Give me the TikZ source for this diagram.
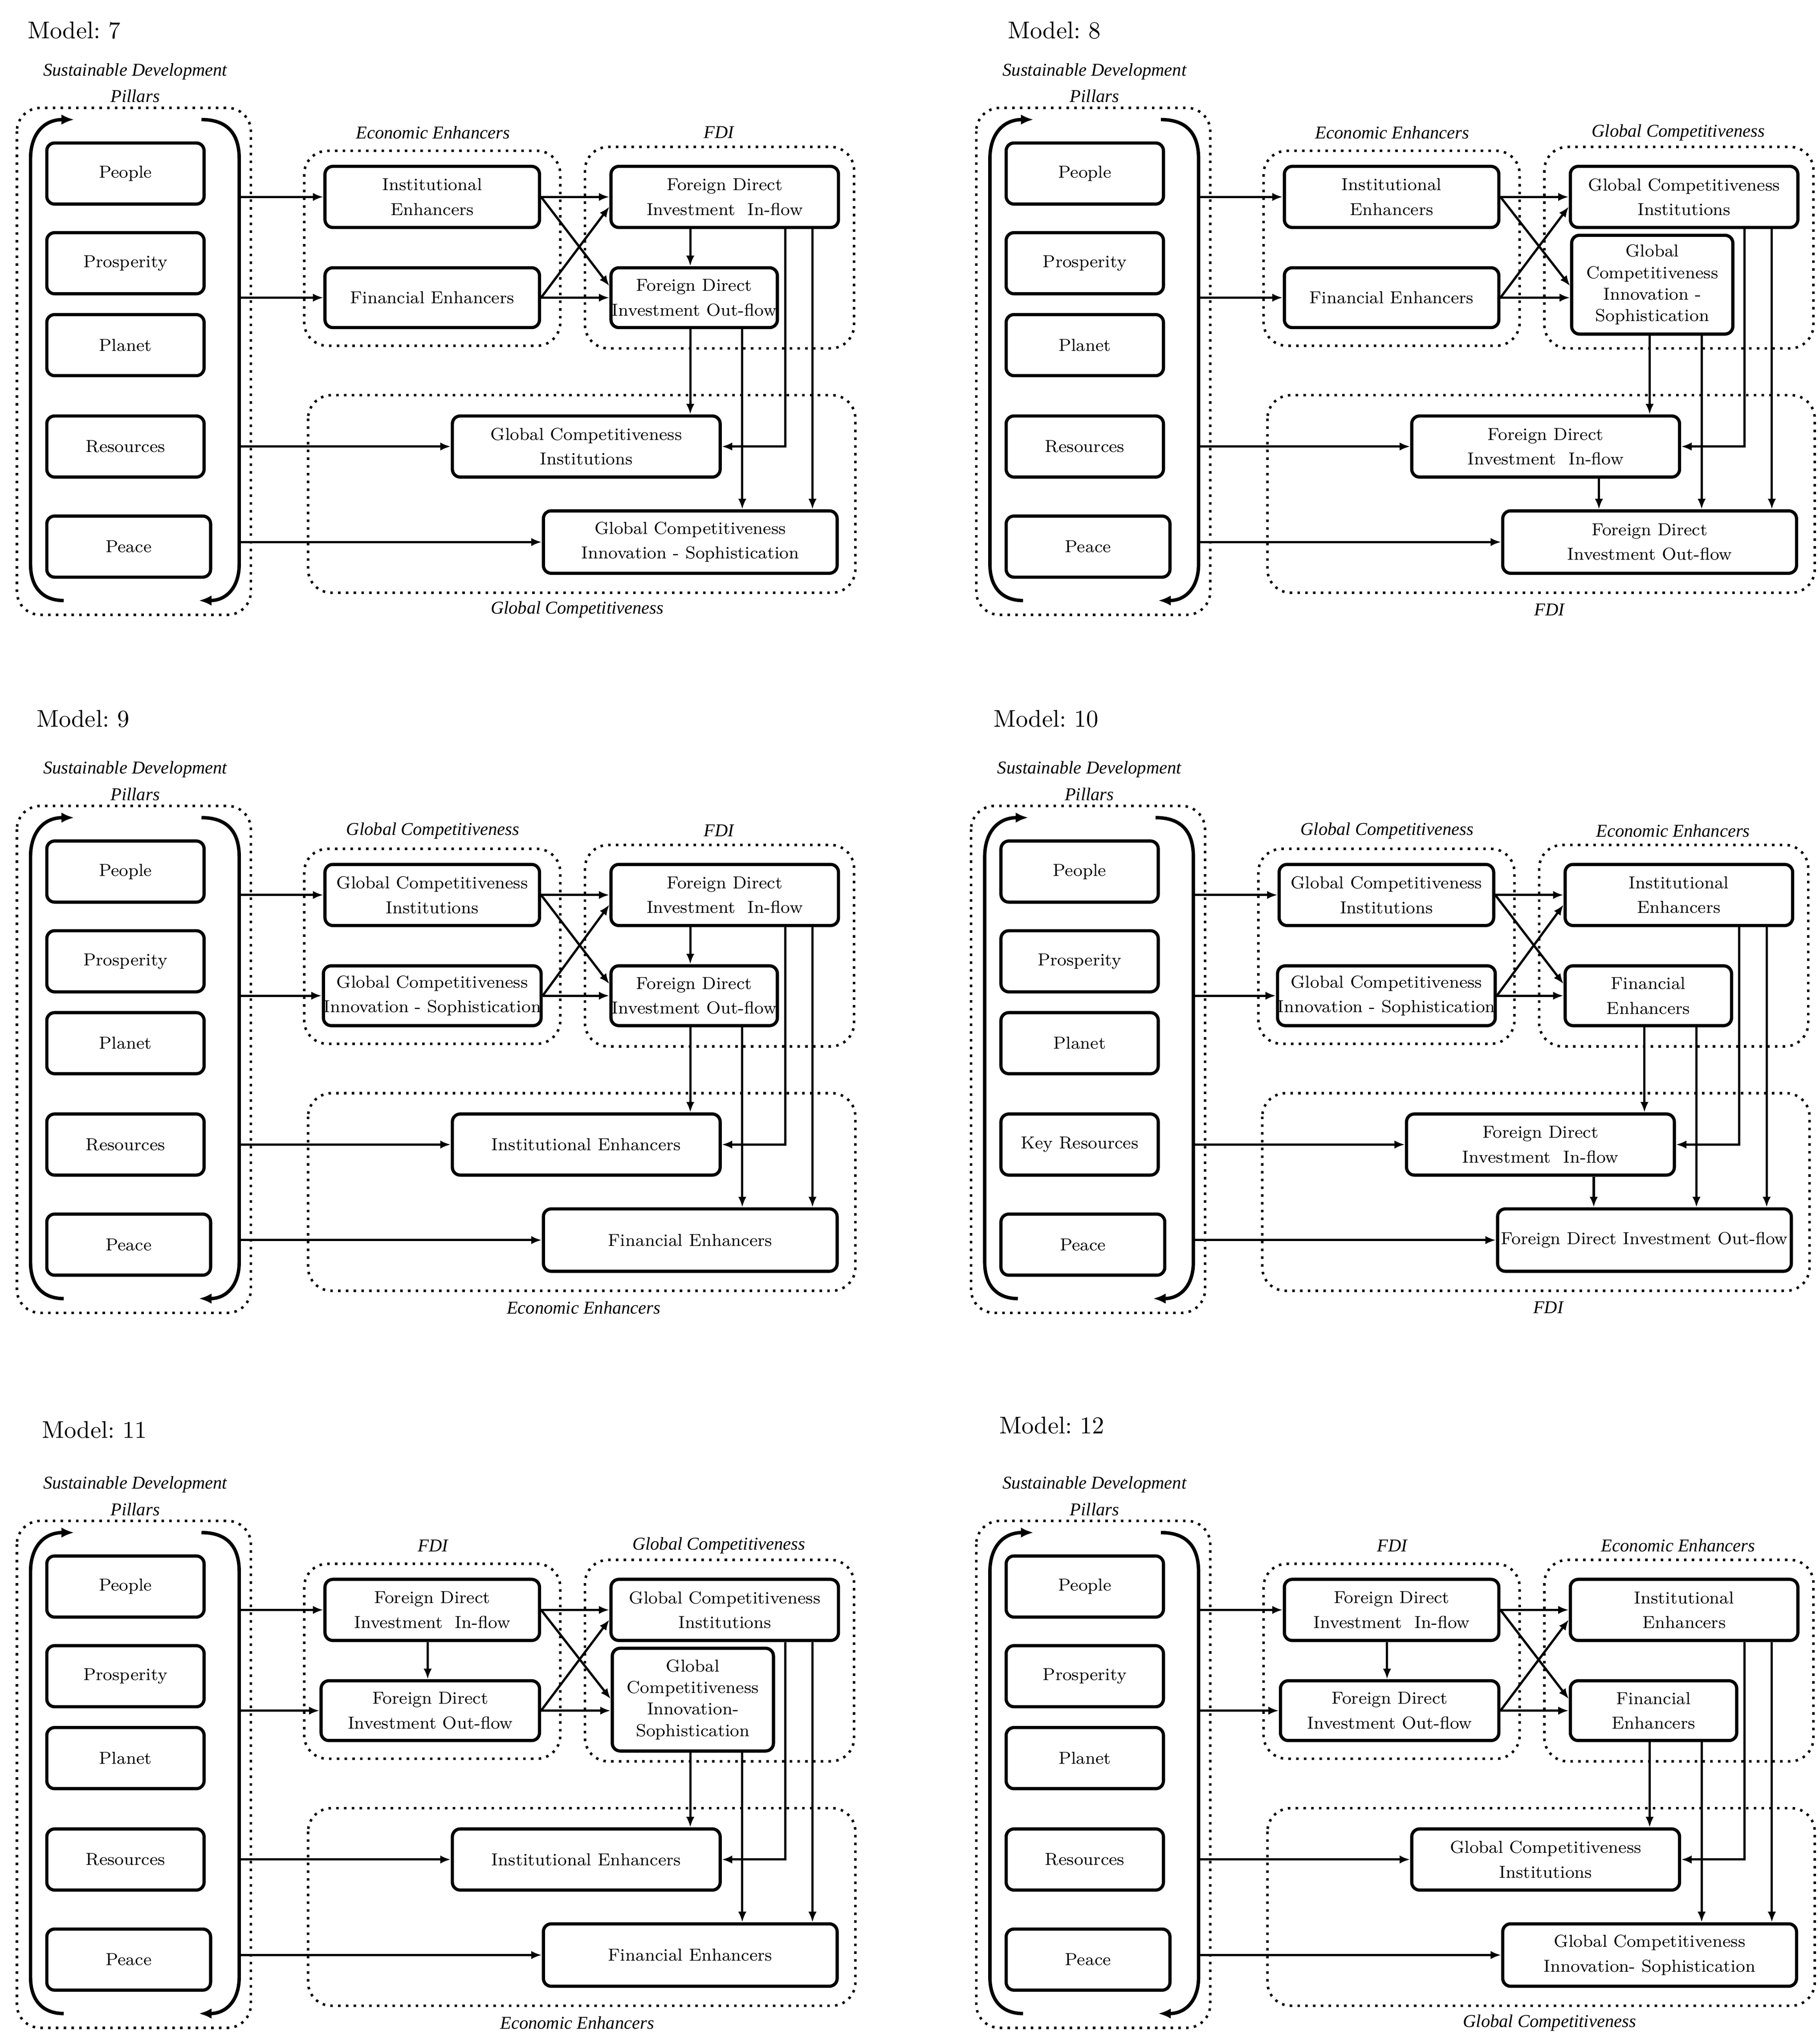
\documentclass[tikz,border=0pt]{standalone}
\usepackage{fontspec}
\newfontfamily\labfont{Liberation Serif}
\usetikzlibrary{arrows.meta,calc}
\frenchspacing
\tikzset{
  box/.style={draw, line width=1.4pt, rounded corners=0.12cm, inner sep=0pt, align=center, font=\fontsize{7.6}{10.8}\selectfont},
  tall/.style={font=\fontsize{7.6}{9.4}\selectfont},
  grp/.style={draw, line width=1.1pt, dash pattern=on 1.1pt off 2.3pt, rounded corners=0.36cm},
  lab/.style={inner sep=0pt, font=\labfont\fontsize{7.9}{9}\selectfont\itshape},
  ttl/.style={inner sep=0pt, anchor=west, font=\fontsize{10.6}{12}\selectfont},
  conn/.style={line width=1.0pt, -{Latex[length=4.6pt,width=3.6pt]}},
  loopline/.style={line width=1.5pt, -{Latex[length=5.5pt,width=4.5pt]}}
}
\newcommand\bx[7][]{\node[box,#1, minimum width={(#5-#3)*0.02cm}, minimum height={(#6-#4)*0.02cm}] (#2) at ({(#3+#5)/2},{(#4+#6)/2}) {#7};}
\newcommand\pillarset[2]{%
  \draw[grp] (13,83) rectangle (193,473);
  \draw[loopline] (49,462) .. controls (33,462) and (23.5,452) .. (23.5,434) -- (23.5,122) .. controls (23.5,104) and (33,92) .. (57,92);
  \draw[loopline] (155,92) .. controls (174,92) and (184,102) .. (184,122) -- (184,434) .. controls (184,452) and (174,462) .. (153,462);
  \coordinate (#1LR) at (184,0);
  \bx{#1p1}{36}{110}{157}{157}{People}
  \bx{#1p2}{36}{179}{157}{226}{Prosperity}
  \bx{#1p3}{36}{242}{157}{289}{Planet}
  \bx{#1p4}{36}{320}{157}{367}{#2}
  \bx{#1p5}{36}{397}{162}{444}{Peace}
  \node[lab] (#1sd) at (104,55) {Sustainable Development};
  \node[lab] (#1sdp) at (104,74) {Pillars};
}
\newcommand\groupset[5]{%
  \draw[grp] (234,116) rectangle (431,266);
  \draw[grp] (450,113) rectangle (657,268);
  \draw[grp] (237,304) rectangle (658,456);
  \node[lab] (#1l1) at (333,102) {#2};
  \node[lab] (#1l2) at (553,102) {#3};
  \node[lab] (#1l3) at (#5,469) {#4};
  \coordinate (#1ya) at (0,220);
  \coordinate (#1yb) at (0,159);
  \coordinate (#1xa) at (531,0);
  \coordinate (#1xb) at (604,0);
  \coordinate (#1xc) at (571,0);
  \coordinate (#1xd) at (625,0);
  \coordinate (#1xe) at (492,0);
  \coordinate (#1xv) at (329,0);
}
\newcommand\links[1]{%
  \draw[conn] (#1LR |- #1g1a.west) -- (#1g1a.west);
  \draw[conn] (#1LR |- #1g1b.west) -- (#1g1b.west);
  \draw[conn] (#1LR |- #1ba.west) -- (#1ba.west);
  \draw[conn] (#1LR |- #1bb.west) -- (#1bb.west);
  \draw[conn] (#1g1a.east) -- (#1g1a.east -| #1g2a.west);
  \draw[conn] (#1g1b.east) -- (#1g1b.east -| #1g2b.west);
  \draw[conn] (#1g1a.east) -- (#1g2b.west |- #1ya);
  \draw[conn] (#1g1b.east) -- (#1g2a.west |- #1yb);
  \draw[conn] (#1xa |- #1g2b.south) -- (#1xa |- #1ba.north);
  \draw[conn] (#1xb |- #1g2a.south) -- (#1xb |- #1ba.east) -- (#1ba.east);
  \draw[conn] (#1xc |- #1g2b.south) -- (#1xc |- #1bb.north);
  \draw[conn] (#1xd |- #1g2a.south) -- (#1xd |- #1bb.north);
}
\begin{document}
\begin{tikzpicture}[x=0.02cm,y=-0.02cm]
\useasboundingbox (0,0) rectangle (1400,1568.6);
% titles
\node[ttl] (t7) at (21,23.5) {Model: 7};
\node[ttl] (t8) at (775,23.5) {Model: 8};
\node[ttl] (t9) at (27.8,553) {Model: 9};
\node[ttl] (t10) at (764,553) {Model: 10};
\node[ttl] (t11) at (32,1100) {Model: 11};
\node[ttl] (t12) at (768.5,1096.5) {Model: 12};
% Model 7
\begin{scope}[shift={(0,0)}]
\pillarset{a}{Resources}
\groupset{a}{Economic Enhancers}{FDI}{Global Competitiveness}{444}
\bx{ag1a}{250}{128}{415}{175}{Institutional\\Enhancers}
\bx{ag1b}{250}{206}{415}{252}{Financial Enhancers}
\bx{ag2a}{470}{128}{645}{175}{Foreign Direct\\Investment~ In-flow}
\bx{ag2b}{470}{206}{598}{252}{Foreign Direct\\Investment Out-flow}
\bx{aba}{348}{320}{554}{367}{Global Competitiveness\\Institutions}
\bx{abb}{418}{393}{644}{441}{Global Competitiveness\\Innovation - Sophistication}
\links{a}
\draw[conn] (axa |- ag2a.south) -- (axa |- ag2b.north);
\end{scope}
% Model 8
\begin{scope}[shift={(738,0)}]
\pillarset{b}{Resources}
\groupset{b}{Economic Enhancers}{Global Competitiveness}{FDI}{454}
\bx{bg1a}{250}{128}{415}{175}{Institutional\\Enhancers}
\bx{bg1b}{250}{206}{415}{252}{Financial Enhancers}
\bx{bg2a}{470}{128}{645}{175}{Global Competitiveness\\Institutions}
\bx[tall]{bg2b}{471}{181}{595}{257}{Global\\Competitiveness\\Innovation -\\Sophistication}
\bx{bba}{348}{320}{554}{367}{Foreign Direct\\Investment~ In-flow}
\bx{bbb}{418}{393}{644}{441}{Foreign Direct\\Investment Out-flow}
\links{b}
\draw[conn] (bxe |- bba.south) -- (bxe |- bbb.north);
\end{scope}
% Model 9
\begin{scope}[shift={(0,537)}]
\pillarset{c}{Resources}
\groupset{c}{Global Competitiveness}{FDI}{Economic Enhancers}{449}
\bx{cg1a}{250}{128}{415}{175}{Global Competitiveness\\Institutions}
\bx{cg1b}{250}{206}{415}{252}{Global Competitiveness\\Innovation - Sophistication}
\bx{cg2a}{470}{128}{645}{175}{Foreign Direct\\Investment~ In-flow}
\bx{cg2b}{470}{206}{598}{252}{Foreign Direct\\Investment Out-flow}
\bx{cba}{348}{320}{554}{367}{Institutional Enhancers}
\bx{cbb}{418}{393}{644}{441}{Financial Enhancers}
\links{c}
\draw[conn] (cxa |- cg2a.south) -- (cxa |- cg2b.north);
\end{scope}
% Model 10
\begin{scope}[shift={(734,537)}]
\pillarset{d}{Key Resources}
\groupset{d}{Global Competitiveness}{Economic Enhancers}{FDI}{457}
\bx{dg1a}{250}{128}{415}{175}{Global Competitiveness\\Institutions}
\bx{dg1b}{250}{206}{415}{252}{Global Competitiveness\\Innovation - Sophistication}
\bx{dg2a}{470}{128}{645}{175}{Institutional\\Enhancers}
\bx{dg2b}{470}{206}{598}{252}{Financial\\Enhancers}
\bx{dba}{348}{320}{554}{367}{Foreign Direct\\Investment~ In-flow}
\bx{dbb}{418}{393}{644}{441}{Foreign Direct Investment Out-flow}
\links{d}
\draw[conn] (dxe |- dba.south) -- (dxe |- dbb.north);
\end{scope}
% Model 11
\begin{scope}[shift={(0,1087)}]
\pillarset{e}{Resources}
\groupset{e}{FDI}{Global Competitiveness}{Economic Enhancers}{444}
\bx{eg1a}{250}{128}{415}{175}{Foreign Direct\\Investment~ In-flow}
\bx{eg1b}{247}{206}{415}{252}{Foreign Direct\\Investment Out-flow}
\bx{eg2a}{470}{128}{645}{175}{Global Competitiveness\\Institutions}
\bx[tall]{eg2b}{471}{181}{595}{260}{Global\\Competitiveness\\Innovation-\\Sophistication}
\bx{eba}{348}{320}{554}{367}{Institutional Enhancers}
\bx{ebb}{418}{393}{644}{441}{Financial Enhancers}
\links{e}
\draw[conn] (exv |- eg1a.south) -- (exv |- eg1b.north);
\end{scope}
% Model 12
\begin{scope}[shift={(738,1087)}]
\pillarset{f}{Resources}
\groupset{f}{FDI}{Economic Enhancers}{Global Competitiveness}{454}
\bx{fg1a}{250}{128}{415}{175}{Foreign Direct\\Investment~ In-flow}
\bx{fg1b}{247}{206}{415}{252}{Foreign Direct\\Investment Out-flow}
\bx{fg2a}{470}{128}{645}{175}{Institutional\\Enhancers}
\bx{fg2b}{470}{206}{598}{252}{Financial\\Enhancers}
\bx{fba}{348}{320}{554}{367}{Global Competitiveness\\Institutions}
\bx{fbb}{418}{393}{644}{441}{Global Competitiveness\\Innovation- Sophistication}
\links{f}
\draw[conn] (fxv |- fg1a.south) -- (fxv |- fg1b.north);
\end{scope}
\end{tikzpicture}
\end{document}
